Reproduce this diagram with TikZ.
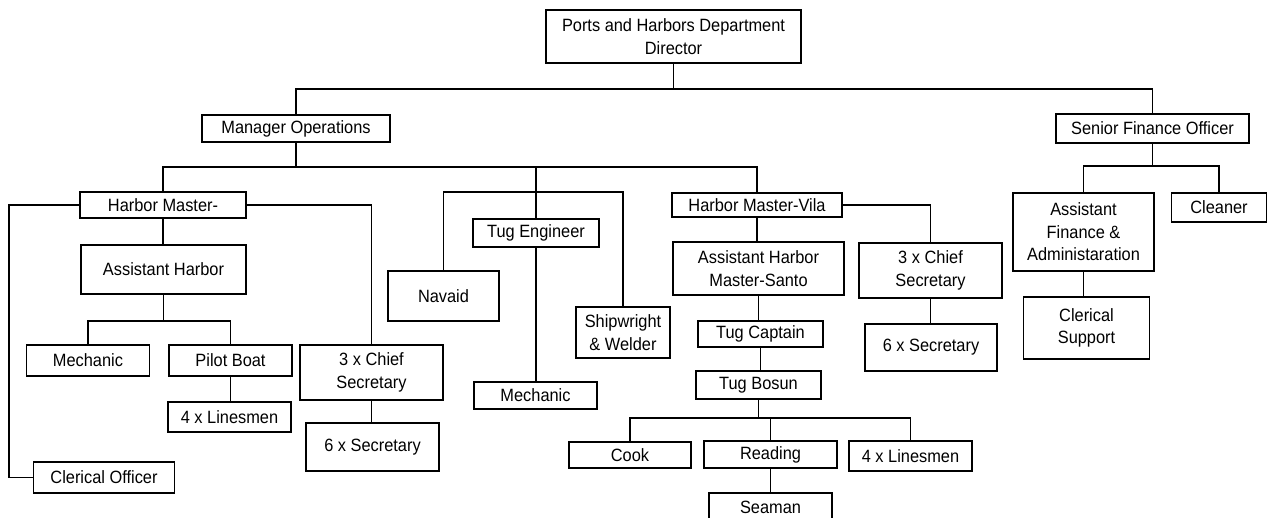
\documentclass[tikz,border=0pt]{standalone}
\usepackage{fontspec}
\setmainfont[FakeStretch=0.92]{Liberation Sans}
\begin{document}
\begin{tikzpicture}[x=1pt,y=-1pt,
  box/.style={draw=black, line width=1.6pt, inner sep=0pt, align=center,
    font=\fontsize{17.8}{22.5}\selectfont},
  link/.style={draw=black, line width=1.6pt}]
\clip (0,0) rectangle (1268,518);
\fill[white] (0,0) rectangle (1268,518);
% nodes
\node[box, minimum width=255pt, minimum height=53pt] (dir) at (673.5,36.5) {Ports and Harbors Department\\Director};
\node[box, minimum width=188pt, minimum height=27pt] (mo) at (296,128.5) {Manager Operations};
\node[box, minimum width=193pt, minimum height=29pt] (sfo) at (1152.5,128.5) {Senior Finance Officer};
\node[box, minimum width=166pt, minimum height=26pt] (hm) at (163,205) {Harbor Master-};
\node[box, minimum width=165pt, minimum height=49pt] (ah) at (163.5,269.5) {Assistant Harbor};
\node[box, minimum width=123pt, minimum height=31pt] (mech1) at (88,360.5) {Mechanic};
\node[box, minimum width=123pt, minimum height=31pt] (pilot) at (230.5,360.5) {Pilot Boat};
\node[box, minimum width=123pt, minimum height=30pt] (lines1) at (229.5,417) {4 x Linesmen};
\node[box, minimum width=141pt, minimum height=31pt] (clerk) at (104,477.5) {Clerical Officer};
\node[box, minimum width=143pt, minimum height=55pt] (chief1) at (371.5,372.5) {3 x Chief\\Secretary};
\node[box, minimum width=133pt, minimum height=48pt] (sec1) at (372.5,447) {6 x Secretary};
\node[box, minimum width=111pt, minimum height=50pt] (navaid) at (443.5,296) {Navaid};
\node[box, minimum width=126pt, minimum height=28pt] (tugeng) at (536,233) {Tug Engineer};
\node[box, minimum width=123pt, minimum height=27pt] (mech2) at (535.5,395.5) {Mechanic};
\node[box, minimum width=94pt, minimum height=51pt] (ship) at (623,332.5) {Shipwright\\\& Welder};
\node[box, minimum width=170pt, minimum height=24pt] (hmv) at (757,205) {Harbor Master-Vila};
\node[box, minimum width=171pt, minimum height=53pt] (ahms) at (758.5,268.5) {Assistant Harbor\\Master-Santo};
\node[box, minimum width=125pt, minimum height=26pt] (tugcap) at (760.5,334) {Tug Captain};
\node[box, minimum width=125pt, minimum height=28pt] (bosun) at (758.5,385) {Tug Bosun};
\node[box, minimum width=122pt, minimum height=26pt] (cook) at (630,455) {Cook};
\node[box, minimum width=133pt, minimum height=27pt] (reading) at (770.5,454.5) {Reading};
\node[box, minimum width=123pt, minimum height=30pt] (lines2) at (910.5,456) {4 x Linesmen};
\node[box, minimum width=123pt, minimum height=28pt] (seaman) at (770.5,507) {Seaman};
\node[box, minimum width=143pt, minimum height=55pt] (chief2) at (930.5,270.5) {3 x Chief\\Secretary};
\node[box, minimum width=132pt, minimum height=47pt] (sec2) at (931,347.5) {6 x Secretary};
\node[box, minimum width=141pt, minimum height=78pt] (af) at (1083.5,232) {Assistant\\Finance \&\\Administaration};
\node[box, minimum width=95pt, minimum height=29pt] (cleaner) at (1219,207.5) {Cleaner};
\node[box, minimum width=126pt, minimum height=62pt] (cs) at (1086.5,328) {Clerical\\Support};
% connectors
\path[link] (dir.south) -- ++(0,25) -| (mo.north);
\path[link] (dir.south) -- ++(0,25) -| (sfo.north);
\path[link] (mo.south) -- ++(0,24) -| (hm.north);
\path[link] (mo.south) -- ++(0,24) -| (hmv.north);
\path[link] (mo.south) -- ++(0,24) -| (tugeng.north);
\path[link] ([yshift=26pt]tugeng.north) -| (navaid.north);
\path[link] ([yshift=26pt]tugeng.north) -| (ship.north);
\path[link] (hm.west) -| ([xshift=-23.5pt]clerk.west) -- (clerk.west);
\path[link] (hm.east) -| (chief1.north);
\path[link] (hm.south) -- (hm.south |- ah.north);
\path[link] (ah.south) -- ++(0,26.5) -| (mech1.north);
\path[link] (ah.south) -- ++(0,26.5) -| (pilot.north);
\path[link] (pilot.south) -- (pilot.south |- lines1.north);
\path[link] (chief1.south) -- (chief1.south |- sec1.north);
\path[link] (tugeng.south) -- (tugeng.south |- mech2.north);
\path[link] (hmv.south) -- (hmv.south |- ahms.north);
\path[link] (ahms.south) -- (ahms.south |- tugcap.north);
\path[link] (tugcap.south) -- (tugcap.south |- bosun.north);
\path[link] (bosun.south) -- ++(0,18) -| (cook.north);
\path[link] (bosun.south) -- ++(0,18) -| (reading.north);
\path[link] (bosun.south) -- ++(0,18) -| (lines2.north);
\path[link] (reading.south) -- (reading.south |- seaman.north);
\path[link] (hmv.east) -| (chief2.north);
\path[link] (chief2.south) -- (chief2.south |- sec2.north);
\path[link] (sfo.south) -- ++(0,22) -| (af.north);
\path[link] (sfo.south) -- ++(0,22) -| (cleaner.north);
\path[link] (af.south) -- (af.south |- cs.north);
\end{tikzpicture}
\end{document}
